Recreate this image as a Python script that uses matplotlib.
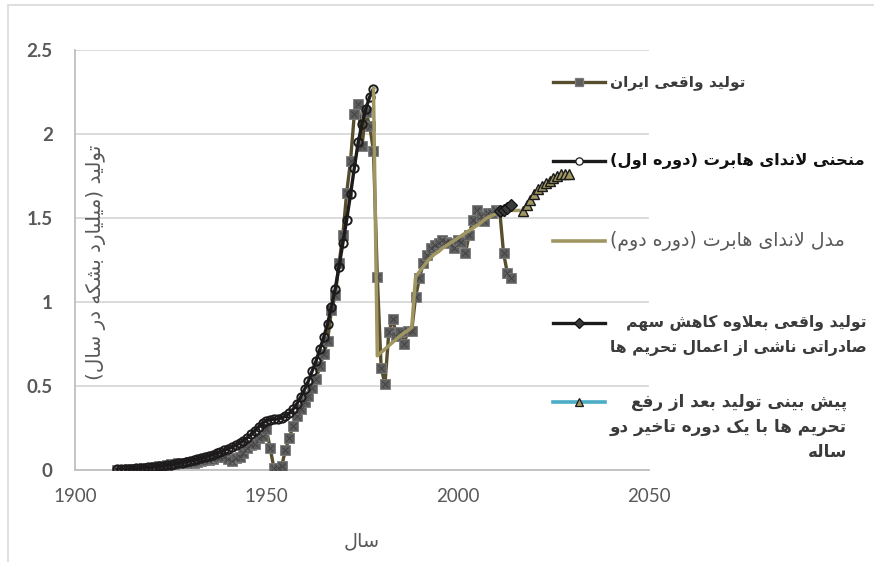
import matplotlib
matplotlib.use('Agg')
import matplotlib.pyplot as plt
from matplotlib.lines import Line2D
from matplotlib.patches import Rectangle

# ---------------- data ----------------
years_actual = list(range(1911, 2015))
actual = [0.000, 0.0004, 0.002, 0.003, 0.004, 0.005, 0.007, 0.009, 0.010, 0.012,
          0.017, 0.022, 0.025, 0.032, 0.035, 0.036, 0.040, 0.044, 0.042, 0.046,
          0.044, 0.050, 0.054, 0.058, 0.057, 0.063, 0.078, 0.078, 0.078, 0.066,
          0.051, 0.072, 0.075, 0.102, 0.131, 0.147, 0.155, 0.190, 0.205, 0.243,
          0.130, 0.010, 0.010, 0.022, 0.120, 0.192, 0.262, 0.320, 0.365, 0.405,
          0.440, 0.490, 0.540, 0.620, 0.690, 0.770, 0.950, 1.040, 1.230, 1.400,
          1.650, 1.840, 2.120, 2.180, 1.930, 2.130, 2.050, 1.900, 1.150, 0.610,
          0.510, 0.820, 0.900, 0.800, 0.820, 0.750, 0.830, 0.830, 1.030, 1.140,
          1.230, 1.280, 1.320, 1.340, 1.350, 1.370, 1.360, 1.350, 1.320, 1.370,
          1.360, 1.290, 1.400, 1.490, 1.550, 1.510, 1.480, 1.530, 1.530, 1.550,
          1.540, 1.290, 1.170, 1.140]

years_hub1 = list(range(1911, 1979))
hub1 = [0.003, 0.004, 0.005, 0.006, 0.008, 0.009, 0.011, 0.013, 0.015, 0.017,
        0.019, 0.022, 0.025, 0.028, 0.032, 0.036, 0.040, 0.044, 0.049, 0.054,
        0.059, 0.065, 0.071, 0.078, 0.085, 0.092, 0.100, 0.108, 0.117, 0.126,
        0.136, 0.147, 0.160, 0.175, 0.192, 0.212, 0.235, 0.258, 0.278, 0.293,
        0.300, 0.302, 0.304, 0.310, 0.320, 0.338, 0.362, 0.395, 0.435, 0.480,
        0.530, 0.590, 0.650, 0.720, 0.790, 0.870, 0.970, 1.080, 1.210, 1.350,
        1.490, 1.640, 1.800, 1.950, 2.060, 2.150, 2.220, 2.270]

years_hub2 = list(range(1978, 2017))
hub2 = [2.270, 0.680, 0.700, 0.720, 0.740, 0.760, 0.780, 0.800, 0.815, 0.830,
        0.850, 1.150, 1.180, 1.210, 1.240, 1.265, 1.285, 1.300, 1.320, 1.335,
        1.350, 1.365, 1.380, 1.395, 1.410, 1.425, 1.440, 1.455, 1.470, 1.490,
        1.505, 1.515, 1.525, 1.535, 1.540, 1.540, 1.545, 1.545, 1.545]

years_sanction = [2011, 2012, 2013, 2014]
sanction = [1.540, 1.545, 1.560, 1.580]

years_forecast = list(range(2017, 2030))
forecast = [1.540, 1.580, 1.610, 1.640, 1.670, 1.690, 1.710, 1.720, 1.740,
            1.750, 1.760, 1.760, 1.760]

labels = ["تولید واقعی ایران",
          "منحنی لاندای هابرت (دوره اول)",
          "مدل لاندای هابرت (دوره دوم)",
          "تولید واقعی بعلاوه کاهش سهم\nصادراتی ناشی از اعمال تحریم ها",
          "پیش بینی تولید بعد از رفع\nتحریم ها با یک دوره تاخیر دو\nساله"]
ylabel = "تولید (میلیارد بشکه در سال)"
xlabel = "سال"
xticks = [1900, 1950, 2000, 2050]
yticks = [0, 0.5, 1, 1.5, 2, 2.5]
ytick_labels = ["0", "0.5", "1", "1.5", "2", "2.5"]

# ---------------- Persian shaping (presentation forms + visual order) ----------------
FORMS = {
    '\u0627': ('\uFE8D', '\uFE8E', None, None),
    '\u0622': ('\uFE81', '\uFE82', None, None),
    '\u0628': ('\uFE8F', '\uFE90', '\uFE91', '\uFE92'),
    '\u067E': ('\uFB56', '\uFB57', '\uFB58', '\uFB59'),
    '\u062A': ('\uFE95', '\uFE96', '\uFE97', '\uFE98'),
    '\u062B': ('\uFE99', '\uFE9A', '\uFE9B', '\uFE9C'),
    '\u062C': ('\uFE9D', '\uFE9E', '\uFE9F', '\uFEA0'),
    '\u062D': ('\uFEA1', '\uFEA2', '\uFEA3', '\uFEA4'),
    '\u062E': ('\uFEA5', '\uFEA6', '\uFEA7', '\uFEA8'),
    '\u062F': ('\uFEA9', '\uFEAA', None, None),
    '\u0630': ('\uFEAB', '\uFEAC', None, None),
    '\u0631': ('\uFEAD', '\uFEAE', None, None),
    '\u0632': ('\uFEAF', '\uFEB0', None, None),
    '\u0698': ('\uFB8A', '\uFB8B', None, None),
    '\u0633': ('\uFEB1', '\uFEB2', '\uFEB3', '\uFEB4'),
    '\u0634': ('\uFEB5', '\uFEB6', '\uFEB7', '\uFEB8'),
    '\u0635': ('\uFEB9', '\uFEBA', '\uFEBB', '\uFEBC'),
    '\u0636': ('\uFEBD', '\uFEBE', '\uFEBF', '\uFEC0'),
    '\u0637': ('\uFEC1', '\uFEC2', '\uFEC3', '\uFEC4'),
    '\u0638': ('\uFEC5', '\uFEC6', '\uFEC7', '\uFEC8'),
    '\u0639': ('\uFEC9', '\uFECA', '\uFECB', '\uFECC'),
    '\u063A': ('\uFECD', '\uFECE', '\uFECF', '\uFED0'),
    '\u0641': ('\uFED1', '\uFED2', '\uFED3', '\uFED4'),
    '\u0642': ('\uFED5', '\uFED6', '\uFED7', '\uFED8'),
    '\u06A9': ('\uFB8E', '\uFB8F', '\uFB90', '\uFB91'),
    '\u0643': ('\uFED9', '\uFEDA', '\uFEDB', '\uFEDC'),
    '\u06AF': ('\uFB92', '\uFB93', '\uFB94', '\uFB95'),
    '\u0644': ('\uFEDD', '\uFEDE', '\uFEDF', '\uFEE0'),
    '\u0645': ('\uFEE1', '\uFEE2', '\uFEE3', '\uFEE4'),
    '\u0646': ('\uFEE5', '\uFEE6', '\uFEE7', '\uFEE8'),
    '\u0647': ('\uFEE9', '\uFEEA', '\uFEEB', '\uFEEC'),
    '\u0648': ('\uFEED', '\uFEEE', None, None),
    '\u06CC': ('\uFBFC', '\uFBFD', '\uFBFE', '\uFBFF'),
    '\u064A': ('\uFEF1', '\uFEF2', '\uFEF3', '\uFEF4'),
}


def _dual(c):
    return c in FORMS and FORMS[c][2] is not None


def shape_line(s):
    out = []
    n = len(s)
    i = 0
    while i < n:
        c = s[i]
        if c not in FORMS:
            out.append(c)
            i += 1
            continue
        join_prev = i > 0 and _dual(s[i - 1])
        if c == '\u0644' and i + 1 < n and s[i + 1] == '\u0627':
            out.append('\uFEFC' if join_prev else '\uFEFB')
            i += 2
            continue
        join_next = _dual(c) and i + 1 < n and s[i + 1] in FORMS
        f = FORMS[c]
        if join_prev and join_next:
            g = f[3]
        elif join_prev:
            g = f[1]
        elif join_next:
            g = f[2]
        else:
            g = f[0]
        out.append(g)
        i += 1
    vis = ''.join(out)[::-1]
    return vis.translate(str.maketrans('()', ')('))


# ---------------- figure ----------------
W, H = 874, 562
fig = plt.figure(figsize=(W / 100, H / 100), dpi=100)
fig.patch.set_facecolor('white')
renderer = fig.canvas.get_renderer()


def fx(px):
    return px / W


def fy(py):
    return 1 - py / H


def fitted_size(s, target_px, weight='normal', family=('DejaVu Sans',)):
    t = fig.text(0, 0, s, fontsize=10, fontweight=weight, family=list(family))
    bb = t.get_window_extent(renderer=renderer)
    t.remove()
    return 10 * target_px / bb.width


# outer chart frame
fig.add_artist(Rectangle((fx(8), fy(5) - 1.5), 2.0, 1.5, transform=fig.transFigure,
                         fill=False, edgecolor='#D9D9D9', linewidth=1.2))

ax = fig.add_axes([fx(75), fy(470), fx(649) - fx(75), fy(50) - fy(470)])
ax.set_xlim(1900, 2050)
ax.set_ylim(0, 2.5)
ax.set_xticks(xticks)
ax.set_yticks(yticks)
ax.set_yticklabels(ytick_labels)
ax.tick_params(length=0)
ax.tick_params(axis='y', pad=16, labelsize=13.5, labelcolor='#595959')
ax.tick_params(axis='x', pad=13, labelsize=13.5, labelcolor='#595959')
for t in ax.get_yticklabels():
    t.set_fontfamily('Lato')
    t.set_fontweight('bold')
for t in ax.get_xticklabels():
    t.set_fontfamily('Lato')
ax.grid(axis='y', color='#D9D9D9', linewidth=1.3)
ax.set_axisbelow(True)
for s in ['top', 'right']:
    ax.spines[s].set_visible(False)
ax.spines['left'].set_color('#BFBFBF')
ax.spines['bottom'].set_color('#BFBFBF')
ax.spines['left'].set_linewidth(1.3)
ax.spines['bottom'].set_linewidth(1.3)

c_actual = '#564E2C'
c_sq = '#5E5E5E'
c_hub1 = '#1C1A1A'
c_khaki = '#A09662'
c_cyan = '#4BACC6'

ax.plot(years_actual, actual, color=c_actual, linewidth=2.4, marker='s', markersize=6.5,
        markerfacecolor=c_sq, markeredgecolor='#7A7A7A', markeredgewidth=0.6, zorder=3)
ax.plot(years_actual, actual, linestyle='none', marker='x', markersize=5,
        markeredgecolor='#3E3E3E', markeredgewidth=0.6, zorder=3.1)
ax.plot(years_hub1, hub1, color=c_hub1, linewidth=2.4, marker='o', markersize=6,
        markerfacecolor='none', markeredgecolor=c_hub1, markeredgewidth=1.4, zorder=4)
ax.plot(years_hub2, hub2, color=c_khaki, linewidth=2.5, zorder=5)
ax.plot(years_sanction, sanction, color=c_hub1, linewidth=2.2, marker='D', markersize=6,
        markerfacecolor='#3A3A3A', markeredgecolor='#111111', markeredgewidth=0.9, zorder=6)
ax.plot(years_forecast, forecast, color=c_cyan, linewidth=2.0, marker='^', markersize=6.5,
        markerfacecolor=c_khaki, markeredgecolor='#1A1A1A', markeredgewidth=1.0, zorder=7)

PFONT = ['DejaVu Sans']

# y label inside the plot area
ys_lab = shape_line(ylabel)
fig.text(fx(96), fy(262), ys_lab, rotation=90, ha='center', va='center',
         fontsize=fitted_size(ys_lab, 235), color='#595959', family=PFONT)
# x label
xs_lab = shape_line(xlabel)
fig.text(fx(362), fy(541), xs_lab, ha='center', va='center',
         fontsize=fitted_size(xs_lab, 36), color='#595959', family=PFONT)

# ---------------- legend (manual) ----------------
lx0, lx1, lxm = 553, 605, 579
styles = [
    dict(color=c_actual, lw=2.4, marker='s', ms=5.5, mfc=c_sq, mec='#7A7A7A'),
    dict(color=c_hub1, lw=2.4, marker='o', ms=5.2, mfc='white', mec=c_hub1),
    dict(color=c_khaki, lw=2.6, marker=None),
    dict(color=c_hub1, lw=2.4, marker='D', ms=5.5, mfc='#3A3A3A', mec='#111111'),
    dict(color=c_cyan, lw=2.6, marker='^', ms=6, mfc=c_khaki, mec='#1A1A1A'),
]
ys = [82, 161, 241, 323, 402]
for st, yy in zip(styles, ys):
    fig.add_artist(Line2D([fx(lx0), fx(lx1)], [fy(yy), fy(yy)], transform=fig.transFigure,
                          color=st['color'], linewidth=st['lw']))
    if st['marker']:
        fig.add_artist(Line2D([fx(lxm)], [fy(yy)], transform=fig.transFigure, linestyle='none',
                              marker=st['marker'], markersize=st['ms'],
                              markerfacecolor=st['mfc'], markeredgecolor=st['mec'],
                              markeredgewidth=0.9))

t1 = shape_line(labels[0])
t2 = shape_line(labels[1])
t3 = shape_line(labels[2])
l4 = [shape_line(x) for x in labels[3].split('\n')]
l5 = [shape_line(x) for x in labels[4].split('\n')]

fs1 = fitted_size(t1, 136, 'bold')
fs2 = fitted_size(t2, 254, 'bold')
fs3 = fitted_size(t3, 236, 'normal')
fs4 = fitted_size(l4[1], 258, 'bold')
fs5 = fitted_size(l5[1], 238, 'bold')

fig.text(fx(610), fy(82), t1, ha='left', va='center', fontsize=fs1,
         fontweight='bold', color='#3B3B3B', family=PFONT)
fig.text(fx(610), fy(161), t2, ha='left', va='center', fontsize=fs2,
         fontweight='bold', color='#111111', family=PFONT)
fig.text(fx(610), fy(241), t3, ha='left', va='center', fontsize=fs3,
         color='#595959', family=PFONT)
for k, line in enumerate(l4):
    fig.text(fx(867), fy(323 + 25 * k), line, ha='right', va='center', fontsize=fs4,
             fontweight='bold', color='#3B3B3B', family=PFONT)
for k, line in enumerate(l5):
    fig.text(fx(847), fy(402 + 25 * k), line, ha='right', va='center', fontsize=fs5,
             fontweight='bold', color='#3B3B3B', family=PFONT)

fig.savefig('out.png', dpi=100)
